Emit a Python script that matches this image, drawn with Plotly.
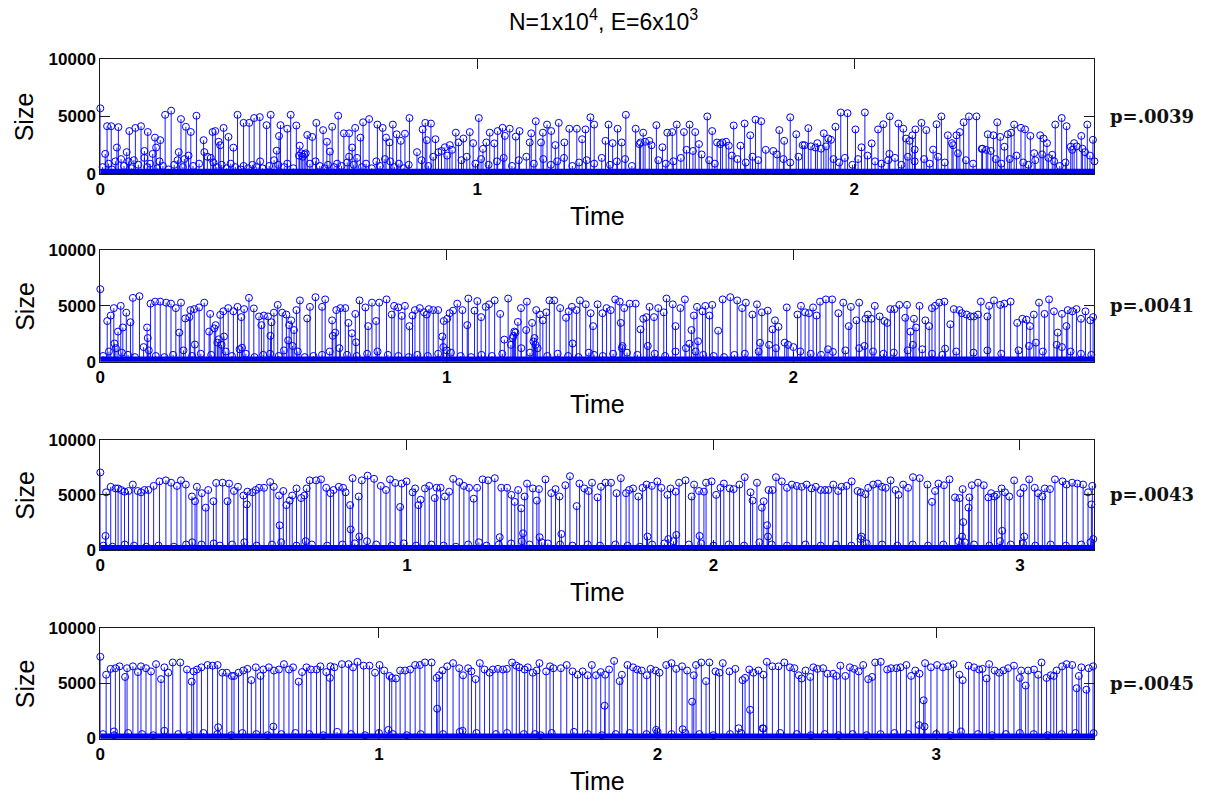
import plotly.graph_objects as go

TITLE = "N=1x10<sup>4</sup>, E=6x10<sup>3</sup>"
P_LABELS = ["p=.0039", "p=.0041", "p=.0043", "p=.0045"]
X_MAX = [2.637, 2.869, 3.243, 3.568]
X_TICKS = [[0, 1, 2], [0, 1, 2], [0, 1, 2, 3], [0, 1, 2, 3]]
Y_TICKS = [0, 5000, 10000]
Y_TICK_TEXT = ["0", "5000", "10000"]

# (time, size) of the large avalanches
P1_EVENTS = [
(0.000,5700),(0.013,1750),(0.018,4150),(0.029,4150),(0.044,2300),(0.048,4070),(0.070,1900),(0.077,3730),(0.093,4000),(0.108,4150),(0.117,2000),(0.126,3650),(0.139,1750),(0.145,3160),(0.148,2300),(0.159,2940),(0.172,5140),(0.188,5500),(0.208,1900),(0.214,4770),(0.227,4100),(0.234,1600),(0.240,3650),(0.255,5060),(0.274,2940),(0.276,1900),(0.298,3650),(0.305,3730),(0.314,2800),(0.318,2500),(0.327,4000),(0.340,3220),(0.353,2290),(0.364,5140),(0.380,4440),(0.395,4440),(0.408,4860),(0.423,4940),(0.424,1100),(0.441,4240),(0.452,5140),(0.468,2030),(0.474,3300),(0.478,4240),(0.496,3930),(0.505,5140),(0.520,4210),(0.529,2460),(0.549,3390),(0.562,3220),(0.573,4440),(0.591,3810),(0.601,2800),(0.609,1950),(0.615,4100),(0.631,5060),(0.646,3530),(0.660,3530),(0.668,2300),(0.676,4000),(0.690,3160),(0.697,4490),(0.713,4770),(0.735,4290),(0.749,4000),(0.758,3160),(0.767,2740),(0.776,4290),(0.786,3450),(0.797,2880),
(0.808,3500),(0.820,4860),(0.855,3870),(0.862,4440),(0.866,2940),(0.877,4380),(0.889,3020),(0.914,2320),(0.927,2510),(0.943,3590),(0.950,2740),(0.963,3080),(0.980,3640),(0.989,2680),(1.004,4860),(1.015,2180),(1.024,2740),(1.033,3590),(1.045,2660),(1.054,3730),(1.067,4010),(1.073,3310),(1.086,3930),(1.102,3250),(1.112,3730),(1.139,2740),(1.143,3530),(1.155,4580),(1.169,2740),(1.174,3590),(1.185,4290),(1.196,3730),(1.207,2510),(1.216,4440),(1.231,2740),(1.244,3930),(1.264,3930),(1.278,3020),(1.287,3870),(1.300,4920),(1.310,4290),(1.340,2880),(1.348,4290),(1.359,2680),(1.372,3930),(1.383,2740),(1.394,5140),(1.420,3930),(1.433,2740),(1.440,3590),(1.456,2880),(1.475,4240),(1.491,2320),(1.504,3590),(1.517,3640),(1.529,4290),(1.548,3640),(1.563,4290),(1.578,3640),(1.588,2600),(1.610,5000),(1.623,3730),(1.636,2740),(1.650,2740),(1.667,2460),(1.680,4210),(1.698,2460),(1.709,4380),(1.724,3360),(1.738,4720),(1.753,4580),(1.801,3810),
(1.814,2880),(1.830,4920),(1.846,3450),(1.863,2510),(1.878,3980),(1.902,2680),(1.919,3530),(1.931,3080),(1.938,2970),(1.950,4100),(1.964,5340),(1.982,5280),(2.003,3870),(2.019,2320),(2.028,5340),(2.046,2660),(2.063,3870),(2.077,4320),(2.093,1750),(2.094,5000),(2.117,4380),(2.130,3930),(2.137,3080),(2.147,2880),(2.154,3360),(2.160,2120),(2.162,3870),(2.178,4440),(2.191,3810),(2.209,2120),(2.218,4320),(2.231,5000),(2.248,3360),(2.259,2680),(2.271,3360),(2.280,3640),(2.290,4490),(2.304,5000),(2.324,5000),(2.338,2180),(2.354,3450),(2.369,3360),(2.379,4490),(2.387,3220),(2.398,2370),(2.407,3450),(2.416,3590),(2.424,4290),(2.442,4010),(2.453,3870),(2.467,3310),(2.477,1810),(2.493,3360),(2.502,3080),(2.511,2680),(2.525,1670),(2.533,4290),(2.550,4860),(2.563,4150),(2.574,2370),(2.583,2680),(2.602,3310),(2.618,4290),(2.633,2970),
]

P2_EVENTS = [
(0.000,6500),(0.020,3640),(0.030,4130),(0.039,4800),(0.041,1620),(0.051,2690),(0.059,5000),(0.065,3060),(0.075,4390),(0.087,3530),(0.094,5720),(0.113,5870),(0.135,3060),(0.137,2110),(0.145,5200),(0.158,5380),(0.173,5380),(0.190,5290),(0.204,5200),(0.218,4800),(0.228,2600),(0.233,5290),(0.245,3870),(0.257,3990),(0.260,4620),(0.271,4710),(0.273,1530),(0.285,4860),(0.300,5290),(0.314,2690),(0.317,4280),(0.329,2980),(0.333,3270),(0.346,4190),(0.355,4510),(0.357,2250),(0.369,4800),(0.384,4510),(0.396,4910),(0.407,3990),(0.409,1240),(0.415,4710),(0.429,5720),(0.443,4770),(0.458,4050),(0.465,3270),(0.472,4130),(0.484,4050),(0.491,2310),(0.494,3530),(0.501,4390),(0.512,5090),(0.525,4390),(0.537,4220),(0.545,3270),(0.551,3700),(0.559,2830),(0.566,4620),(0.576,5490),(0.597,3870),(0.605,4910),(0.621,5780),(0.640,4910),(0.649,5580),(0.669,3700),(0.671,2310),(0.678,2600),(0.681,4620),(0.693,4800),(0.707,4800),(0.716,3470),(0.726,2540),(0.736,4280),(0.738,1730),(0.748,5490),(0.765,4860),(0.773,3180),(0.784,5290),(0.796,3640),(0.805,5290),(0.826,5580),(0.841,4220),(0.848,5000),(0.860,4860),(0.870,4100),
(0.879,5000),(0.892,3180),(0.901,4130),(0.908,4620),(0.922,4800),(0.934,4420),(0.942,4220),(0.948,4710),(0.961,4620),(0.975,4620),(0.987,2250),(0.991,3640),(1.001,3840),(1.008,4340),(1.018,4570),(1.030,5200),(1.045,4620),(1.059,3270),(1.062,5660),(1.080,4570),(1.088,5430),(1.099,3990),(1.112,4910),(1.122,5140),(1.138,5490),(1.154,4280),(1.166,1970),(1.177,5660),(1.190,2110),(1.195,2690),(1.205,3560),(1.214,4800),(1.229,2830),(1.231,5380),(1.246,3470),(1.253,2110),(1.258,4620),(1.269,4220),(1.277,3700),(1.287,4420),(1.296,5490),(1.310,5490),(1.327,4800),(1.344,3930),(1.352,4510),(1.361,4910),(1.363,1620),(1.374,4620),(1.384,5490),(1.401,5140),(1.415,4340),(1.422,3180),(1.435,5140),(1.449,4340),(1.461,4800),(1.473,4620),(1.486,5580),(1.499,5380),(1.502,3470),(1.507,1390),(1.512,4800),(1.528,5200),(1.545,5200),(1.559,2890),(1.567,3840),(1.576,3990),(1.585,4910),(1.598,3990),(1.610,4800),(1.626,4420),(1.634,5660),(1.652,5140),(1.660,3180),(1.674,4800),(1.687,5580),(1.706,2830),(1.713,4130),(1.722,4910),(1.725,1820),(1.738,4510),(1.746,5000),(1.758,4130),(1.766,5090),(1.783,2770),(1.796,5580),(1.818,5780),(1.838,5490),(1.852,4800),(1.863,5290),(1.882,4220),(1.895,5140),(1.904,1680),(1.909,4420),(1.926,4570),(1.940,2890),(1.947,3700),(1.957,3120),
(1.981,4860),(2.012,4220),(2.022,5000),(2.034,4420),(2.045,4340),(2.057,4860),(2.067,4130),(2.077,5380),(2.094,5580),(2.112,5580),(2.114,870),(2.130,4340),(2.144,5290),(2.160,3180),(2.166,4910),(2.182,3700),(2.190,5290),(2.208,3840),(2.215,4220),(2.225,3840),(2.235,5000),(2.249,4050),(2.263,3640),(2.271,3470),(2.280,4710),(2.292,4710),(2.306,5090),(2.323,3930),(2.328,5090),(2.338,2690),(2.348,3840),(2.354,3060),(2.364,5000),(2.381,3700),(2.392,3180),(2.400,4800),(2.409,5000),(2.421,5290),(2.436,5380),(2.438,1160),(2.453,3350),(2.463,4710),(2.479,4620),(2.486,4340),(2.500,4220),(2.512,4050),(2.521,4050),(2.533,4220),(2.541,5380),(2.560,4050),(2.565,5000),(2.579,5490),(2.597,5090),(2.609,5200),(2.627,5380),(2.646,3470),(2.661,3840),(2.673,3760),(2.683,3180),(2.694,4220),(2.709,5290),(2.725,4280),(2.738,5580),(2.752,4510),(2.763,2600),(2.775,4280),(2.788,3180),(2.792,4620),(2.805,4510),(2.817,4710),(2.830,3840),(2.843,4510),(2.857,3700),(2.865,3990),
]

P3_EVENTS = [
(0.000,7030),(0.017,1280),(0.019,5230),(0.034,5730),(0.050,5580),(0.058,5580),(0.068,5440),(0.079,5290),(0.092,5350),(0.106,5930),(0.122,5350),(0.133,5230),(0.144,5440),(0.157,5440),(0.174,5810),(0.193,6220),(0.214,6310),(0.231,6100),(0.250,5810),(0.263,6310),(0.279,5930),(0.299,4850),(0.309,4420),(0.315,5730),(0.331,5150),(0.344,3840),(0.352,5440),(0.369,4420),(0.378,6080),(0.399,6100),(0.415,4420),(0.420,6020),(0.436,5350),(0.449,5730),(0.467,4940),(0.478,4130),(0.480,5290),(0.496,5230),(0.507,5440),(0.518,5640),(0.534,5640),(0.554,6160),(0.566,5730),(0.583,4940),(0.585,2240),(0.597,5350),(0.607,4070),(0.618,4480),(0.626,4940),(0.640,5580),(0.655,4710),(0.666,4940),(0.673,5580),(0.683,6310),(0.704,6310),(0.720,6400),(0.737,5640),(0.751,5150),(0.761,5440),(0.778,5730),(0.792,5640),(0.800,5230),(0.815,4070),(0.817,1860),(0.823,6510),(0.843,4850),(0.845,1220),(0.853,6310),(0.872,6740),(0.893,6450),(0.915,5810),(0.932,5440),(0.945,6400),(0.962,6080),(0.978,3900),(0.983,6020),
(0.999,6220),(1.019,5230),(1.027,5580),(1.038,4070),(1.045,4560),(1.059,5580),(1.073,5810),(1.091,4710),(1.097,5640),(1.110,5640),(1.124,4850),(1.138,5290),(1.151,6450),(1.171,6160),(1.186,5810),(1.203,5640),(1.218,4650),(1.229,5640),(1.247,6400),(1.265,6310),(1.287,6510),(1.303,1160),(1.308,5640),(1.327,5640),(1.341,5000),(1.352,4360),(1.363,5440),(1.373,3780),(1.379,1510),(1.384,4850),(1.392,6020),(1.411,5580),(1.424,4480),(1.431,5520),(1.433,1160),(1.452,6400),(1.471,5150),(1.485,5520),(1.498,4850),(1.504,1450),(1.517,5870),(1.532,6690),(1.554,3980),(1.563,6020),(1.579,5580),(1.593,5350),(1.604,6100),(1.622,4770),(1.633,5730),(1.648,6100),(1.666,6100),(1.684,5150),(1.698,6510),(1.715,5150),(1.725,5440),(1.738,5580),(1.755,4850),(1.769,5640),(1.782,5930),(1.785,1220),(1.799,5810),(1.817,6220),(1.830,5640),(1.850,5000),(1.853,990),(1.860,5580),(1.877,5290),(1.879,1370),(1.888,6100),(1.909,6310),(1.929,4850),(1.937,5930),(1.953,5350),(1.955,1280),(1.969,5290),(1.976,6100),(1.994,6220),(2.009,5000),(2.023,5640),(2.034,6020),(2.053,5580),(2.066,5520),(2.085,5930),(2.102,6600),(2.121,5230),(2.128,4480),(2.142,6100),(2.158,3840),(2.164,4420),(2.175,2240),(2.178,1220),(2.180,5440),(2.193,5440),(2.204,6600),
(2.223,6220),(2.240,5640),(2.256,5930),(2.272,5810),(2.288,5730),(2.304,5930),(2.320,5580),(2.334,5730),(2.350,5440),(2.364,5440),(2.375,5440),(2.391,5930),(2.407,5350),(2.418,5730),(2.434,5810),(2.451,6220),(2.470,5350),(2.481,5230),(2.483,1220),(2.496,5060),(2.505,5640),(2.521,5930),(2.537,6020),(2.550,5730),(2.562,5640),(2.578,6310),(2.594,5440),(2.604,5000),(2.619,5930),(2.635,5640),(2.651,6600),(2.673,6510),(2.698,5930),(2.713,4360),(2.723,5350),(2.734,6020),(2.752,5870),(2.770,6400),(2.788,4770),(2.803,4710),(2.811,1220),(2.813,5520),(2.815,2530),(2.832,3840),(2.835,4770),(2.843,5870),(2.863,6100),(2.882,5870),(2.897,4770),(2.906,5150),(2.917,4850),(2.924,5000),(2.940,5580),(2.942,1740),(2.951,5230),(2.965,4850),(2.981,6310),(3.001,5150),(3.012,5640),(3.014,1220),(3.030,6400),(3.048,5640),(3.059,5150),(3.073,4850),(3.081,5580),(3.098,5520),(3.114,6400),(3.139,6220),(3.152,5930),(3.170,6100),(3.187,6020),(3.206,5930),(3.222,5230),(3.233,4130),(3.236,5810),(3.239,990),
]

P4_EVENTS = [
(0.000,7410),(0.021,5780),(0.037,6310),(0.049,640),(0.054,6370),(0.069,6540),(0.089,5580),(0.096,6370),(0.117,6540),(0.135,6020),(0.146,6540),(0.164,6370),(0.182,6080),(0.200,6740),(0.218,5380),(0.230,6450),(0.244,5960),(0.260,6890),(0.287,6890),(0.311,6250),(0.328,5150),(0.335,6080),(0.347,6250),(0.363,6450),(0.385,6660),(0.403,6600),(0.421,6660),(0.423,1020),(0.438,5960),(0.454,5960),(0.472,5670),(0.480,5670),(0.496,5960),(0.513,6160),(0.528,6310),(0.542,5290),(0.558,6450),(0.575,5670),(0.585,6250),(0.605,6450),(0.621,1080),(0.623,6160),(0.641,6250),(0.659,6740),(0.677,6250),(0.692,6450),(0.712,5150),(0.724,6020),(0.740,6450),(0.756,6250),(0.776,6250),(0.790,6540),(0.811,6020),(0.824,5490),(0.826,6540),(0.840,6450),(0.867,6740),(0.891,6740),(0.907,6450),(0.923,6950),(0.945,6600),(0.966,6600),(0.986,5960),(1.002,6660),(1.019,6160),(1.034,780),(1.038,5670),(1.046,5490),(1.061,5440),(1.076,6160),
(1.094,6160),(1.112,6250),(1.130,6660),(1.147,6660),(1.165,6890),(1.189,6890),(1.207,5490),(1.216,5730),(1.228,6160),(1.245,6540),(1.266,6830),(1.288,6370),(1.302,5730),(1.320,6370),(1.332,6080),(1.347,5380),(1.362,6830),(1.379,6250),(1.397,5960),(1.409,6250),(1.427,6310),(1.445,6250),(1.459,6310),(1.478,6890),(1.493,6600),(1.504,6450),(1.523,6250),(1.534,6450),(1.552,5960),(1.566,6160),(1.576,6830),(1.600,6080),(1.614,6540),(1.626,6370),(1.653,6370),(1.674,6660),(1.695,6080),(1.713,5780),(1.731,6080),(1.749,5730),(1.764,6660),(1.779,5730),(1.796,6020),(1.810,2970),(1.812,5780),(1.826,6250),(1.844,7030),(1.864,5200),(1.872,5780),(1.892,6660),(1.912,6450),(1.927,6250),(1.943,6160),(1.961,5730),(1.975,6310),(1.993,6160),(1.995,780),(2.007,5960),(2.031,6660),(2.050,6830),(2.067,6310),(2.088,6540),(2.090,840),(2.106,6160),(2.124,3340),(2.130,5730),(2.138,6660),(2.157,6890),(2.174,5200),(2.186,6890),(2.208,6080),(2.222,5960),(2.234,6830),(2.258,6080),(2.279,6310),(2.291,930),(2.305,5290),(2.314,5490),(2.329,6250),(2.344,5960),(2.362,6160),(2.377,930),(2.380,5780),(2.392,6950),(2.412,6540),(2.434,6540),
(2.455,6890),(2.475,6450),(2.491,6370),(2.507,5730),(2.517,5440),(2.531,6160),(2.548,5580),(2.559,6450),(2.574,6310),(2.594,6370),(2.610,5870),(2.630,5870),(2.642,5670),(2.656,6600),(2.674,5670),(2.690,6450),(2.706,6310),(2.722,6080),(2.738,6660),(2.756,5380),(2.770,5580),(2.781,6890),(2.801,6950),(2.824,6250),(2.838,6370),(2.857,6370),(2.872,6450),(2.893,6660),(2.910,5670),(2.925,6160),(2.938,1220),(2.940,5870),(2.955,3460),(2.958,1080),(2.960,6830),(2.981,6450),(3.003,6660),(3.024,6450),(3.043,6540),(3.062,6740),(3.083,5780),(3.089,640),(3.095,5290),(3.116,6600),(3.136,6450),(3.154,6250),(3.166,6310),(3.181,5440),(3.190,6740),(3.210,6160),(3.226,5960),(3.241,6160),(3.258,6370),(3.279,6600),(3.300,5490),(3.305,6160),(3.321,4800),(3.330,6160),(3.351,6250),(3.366,5780),(3.378,6890),(3.396,5490),(3.411,5730),(3.422,5670),(3.432,6160),(3.452,6540),(3.468,6740),(3.488,6660),(3.504,4560),(3.512,5670),(3.521,6450),(3.539,4420),(3.547,6370),(3.563,6540),(3.565,490),
]

# (time, size) of the small avalanches crowding the bottom of each panel
P1_SMALL = [
(0.006,600),(0.022,900),(0.031,400),(0.040,1100),(0.055,1300),(0.063,700),(0.075,1100),(0.083,500),(0.089,1200),(0.101,800),(0.117,1400),(0.124,600),(0.132,900),(0.151,500),(0.157,1100),(0.166,700),(0.181,400),(0.196,800),(0.205,1200),(0.219,600),(0.223,1300),(0.246,700),(0.262,900),(0.284,1500),(0.293,1400),(0.300,1000),(0.309,600),(0.322,800),(0.335,500),(0.346,900),(0.358,600),(0.372,400),(0.380,700),(0.392,500),(0.404,800),(0.415,600),(0.430,500),(0.448,700),(0.461,1200),(0.472,800),(0.488,600),(0.496,900),(0.512,500),(0.527,1600),(0.533,1800),(0.537,1500),(0.541,1700),(0.545,1800),(0.556,900),(0.571,1100),(0.582,700),(0.595,500),(0.604,800),(0.620,600),(0.628,900),(0.640,700),(0.655,1000),(0.660,1500),(0.672,800),(0.681,1400),(0.694,600),(0.705,900),(0.720,500),(0.732,1100),(0.742,700),(0.755,1300),(0.769,1100),(0.780,600),(0.792,900),(0.805,500),(0.818,800),(0.840,1900),(0.852,1200),(0.870,700),(0.883,1500),(0.897,1900),(0.905,2000),(0.920,1600),(0.933,2100),(0.958,1200),(0.972,1500),(0.995,900),(1.010,1300),(1.030,800),(1.052,1100),(1.070,1400),(1.092,700),(1.110,1200),(1.130,1500),(1.150,900),(1.175,1300),(1.195,800),(1.212,1100),(1.230,1400),(1.252,700),(1.270,1000),(1.290,1200),(1.310,900),(1.330,1400),(1.352,800),(1.370,1100),(1.392,1300),(1.410,700),(1.430,2600),(1.445,2800),(1.462,2500),(1.480,1200),(1.500,900),(1.520,1100),(1.540,1400),(1.555,2100),(1.572,2000),(1.595,1700),(1.615,1200),(1.630,900),(1.645,2600),(1.660,2800),(1.675,1600),(1.690,1300),(1.712,1000),(1.730,1500),(1.745,1200),(1.765,2100),(1.785,2000),(1.795,1700),(1.812,1300),(1.830,1000),(1.852,1500),(1.868,2500),(1.885,2400),(1.897,2300),(1.912,2200),(1.925,2400),(1.945,1300),(1.960,1000),(1.975,1400),(1.995,800),(2.010,1300),(2.035,1600),(2.055,1100),(2.072,900),(2.090,1200),(2.108,1400),(2.125,800),(2.142,1500),(2.160,1100),(2.185,1300),(2.200,900),(2.222,1500),(2.240,1000),(2.262,2500),(2.275,1800),(2.296,1200),(2.315,900),(2.340,2200),(2.350,2100),(2.362,2000),(2.375,1300),(2.390,900),(2.412,1300),(2.430,1600),(2.448,1000),(2.462,800),(2.480,1200),(2.498,1700),(2.515,1400),(2.530,1100),(2.545,700),(2.560,1000),(2.578,2100),(2.590,2400),(2.605,2200),(2.612,1900),(2.625,1600),(2.637,1100),
]
P2_SMALL = [
(0.008,500),(0.025,900),(0.045,1200),(0.062,800),(0.080,600),(0.100,400),(0.125,1300),(0.140,1000),(0.160,500),(0.185,400),(0.210,600),(0.240,1000),(0.265,500),(0.290,700),(0.320,600),(0.338,1700),(0.342,2000),(0.350,1500),(0.362,900),(0.380,500),(0.402,1100),(0.420,700),(0.445,400),(0.470,600),(0.490,700),(0.515,500),(0.530,1000),(0.542,1900),(0.555,1400),(0.570,900),(0.590,400),(0.615,500),(0.640,600),(0.662,900),(0.690,1200),(0.712,600),(0.740,500),(0.770,700),(0.800,900),(0.830,600),(0.860,500),(0.890,400),(0.915,600),(0.945,500),(0.975,700),(0.990,1300),(1.000,1000),(1.012,800),(1.040,500),(1.070,400),(1.100,600),(1.130,500),(1.160,700),(1.185,1500),(1.192,2300),(1.198,2600),(1.215,1200),(1.240,800),(1.250,1800),(1.256,1500),(1.262,1200),(1.290,500),(1.320,700),(1.350,500),(1.380,400),(1.410,800),(1.425,600),(1.450,500),(1.480,700),(1.505,1200),(1.520,800),(1.550,600),(1.580,1400),(1.600,700),(1.630,500),(1.660,900),(1.690,1200),(1.700,1600),(1.718,900),(1.740,600),(1.770,500),(1.800,400),(1.830,600),(1.860,700),(1.900,900),(1.930,1500),(1.950,1200),(1.975,1700),(1.985,1500),(2.000,1300),(2.020,900),(2.050,700),(2.080,600),(2.100,1100),(2.150,1000),(2.190,1200),(2.205,1400),(2.230,900),(2.260,700),(2.290,800),(2.330,1000),(2.345,1500),(2.372,1100),(2.400,700),(2.430,600),(2.470,900),(2.520,800),(2.560,1000),(2.600,700),(2.650,1000),(2.680,1400),(2.700,1700),(2.720,900),(2.760,1500),(2.775,1300),(2.800,900),(2.830,700),(2.860,600),
]
P3_SMALL = [
(0.010,400),(0.040,300),(0.080,500),(0.110,400),(0.150,300),(0.190,400),(0.240,300),(0.280,500),(0.300,700),(0.330,500),(0.370,600),(0.390,400),(0.430,500),(0.470,700),(0.510,400),(0.560,500),(0.590,700),(0.640,400),(0.670,800),(0.690,500),(0.740,400),(0.790,500),(0.830,600),(0.870,800),(0.900,500),(0.950,400),(0.990,600),(1.030,400),(1.080,500),(1.120,400),(1.160,300),(1.200,500),(1.235,700),(1.260,400),(1.300,500),(1.340,600),(1.375,800),(1.400,500),(1.440,700),(1.460,600),(1.500,500),(1.540,400),(1.590,500),(1.630,400),(1.680,500),(1.720,400),(1.760,300),(1.800,500),(1.840,600),(1.870,800),(1.920,500),(1.960,600),(2.000,400),(2.050,500),(2.100,400),(2.150,700),(2.190,500),(2.240,400),(2.300,500),(2.350,400),(2.400,500),(2.450,400),(2.480,1000),(2.500,600),(2.550,500),(2.600,400),(2.650,500),(2.700,400),(2.750,500),(2.800,800),(2.820,700),(2.850,500),(2.900,400),(2.935,800),(2.970,500),(3.010,600),(3.050,400),(3.100,500),(3.150,400),(3.200,500),(3.230,700),
]
P4_SMALL = [
(0.010,400),(0.050,300),(0.100,500),(0.150,400),(0.190,300),(0.230,700),(0.280,400),(0.320,300),(0.370,500),(0.420,400),(0.470,300),(0.510,500),(0.560,400),(0.600,300),(0.650,400),(0.700,500),(0.750,400),(0.800,300),(0.850,600),(0.900,400),(0.950,300),(1.000,500),(1.050,400),(1.100,300),(1.150,400),(1.209,2700),(1.230,400),(1.290,600),(1.300,700),(1.350,500),(1.420,400),(1.460,500),(1.520,400),(1.560,400),(1.580,300),(1.620,500),(1.700,600),(1.750,400),(1.800,300),(1.850,400),(1.900,500),(1.960,400),(2.000,600),(2.050,400),(2.100,500),(2.150,400),(2.200,300),(2.260,400),(2.300,500),(2.332,2600),(2.380,900),(2.440,500),(2.500,400),(2.550,300),(2.600,400),(2.650,300),(2.700,400),(2.750,300),(2.800,400),(2.850,500),(2.900,400),(3.000,400),(3.050,300),(3.150,400),(3.200,300),(3.250,400),(3.300,500),(3.350,400),(3.400,300),(3.450,400),(3.500,500),
]

PANELS = [(P1_EVENTS, P1_SMALL), (P2_EVENTS, P2_SMALL), (P3_EVENTS, P3_SMALL), (P4_EVENTS, P4_SMALL)]

W, H = 1207, 812
X0_PX, X1_PX = 95.7, 1094.0
PANEL_PX = [(51, 169), (247, 361), (441, 554), (634, 747)]   # top, bottom of each plot box
BLUE = "#0000ff"
AXC = "#1a1a1a"

fig = go.Figure()
shapes, annotations = [], []
xdom = [X0_PX / W, X1_PX / W]

for i, ((big, small), (top, bot)) in enumerate(zip(PANELS, PANEL_PX)):
    n = i + 1
    xa, ya = f"x{n}", f"y{n}"
    events = sorted(small + big)
    ts = [e[0] for e in events]
    ss = [e[1] for e in events]
    sx, sy = [], []
    for t, s in zip(ts, ss):
        sx += [t, t, None]
        sy += [0, s, None]
    fig.add_trace(go.Scatter(x=sx, y=sy, mode="lines", xaxis=xa, yaxis=ya,
                             line=dict(color=BLUE, width=0.9), hoverinfo="skip",
                             showlegend=False))
    fig.add_trace(go.Scatter(x=ts, y=ss, mode="markers", xaxis=xa, yaxis=ya,
                             marker=dict(symbol="circle-open", size=7,
                                         line=dict(color=BLUE, width=1), color=BLUE),
                             cliponaxis=False, showlegend=False))
    ydom = [1 - bot / H, 1 - top / H]
    fig.layout[f"xaxis{n}"] = dict(
        domain=xdom, anchor=ya, range=[0, X_MAX[i]], tickvals=X_TICKS[i],
        ticktext=[str(v) for v in X_TICKS[i]],
        ticks="inside", ticklen=10, tickcolor=AXC, mirror="ticks", showline=True,
        linecolor=AXC, linewidth=1, showgrid=False, zeroline=False,
        tickfont=dict(family="Liberation Sans", size=17, color="black", weight="bold"),
        ticklabelstandoff=0)
    fig.layout[f"yaxis{n}"] = dict(
        domain=ydom, anchor=xa, range=[0, 10000], tickvals=Y_TICKS, ticktext=Y_TICK_TEXT,
        ticks="inside", ticklen=10, tickcolor=AXC, mirror="ticks", showline=True,
        linecolor=AXC, linewidth=1, showgrid=False, zeroline=False,
        tickfont=dict(family="Liberation Sans", size=17, color="black", weight="bold"))
    # thick base band made by the crowd of tiny events at the baseline
    shapes.append(dict(type="rect", xref=xa, yref=ya, x0=0, x1=X_MAX[i],
                       y0=-250, y1=450, fillcolor=BLUE, line=dict(width=0), layer="above"))
    shapes.append(dict(type="line", xref=xa, yref=ya, x0=0, x1=X_MAX[i],
                       y0=0, y1=0, line=dict(color="#000080", width=1.5), layer="above"))
    annotations.append(dict(text=P_LABELS[i], xref="paper", yref=ya, x=1108 / W, y=5000,
                            xanchor="left", yanchor="middle", showarrow=False,
                            font=dict(family="DejaVu Serif", size=18, color="#111", weight="bold")))
    annotations.append(dict(text="Size", xref="paper", yref="paper", x=20 / W,
                            y=1 - (top + bot) / 2 / H, textangle=-90, showarrow=False,
                            xanchor="center", yanchor="middle",
                            font=dict(family="Liberation Sans", size=25, color="black")))
    annotations.append(dict(text="Time", xref="paper", yref="paper", x=(X0_PX + X1_PX) / 2 / W,
                            y=1 - (bot + 43) / H, showarrow=False,
                            xanchor="center", yanchor="middle",
                            font=dict(family="Liberation Sans", size=25, color="black")))

annotations.append(dict(text=TITLE, xref="paper", yref="paper", x=601 / W, y=1 + 6 / H,
                        showarrow=False, xanchor="center", yanchor="top",
                        font=dict(family="Liberation Sans", size=23, color="black")))

fig.update_layout(width=W, height=H, margin=dict(l=0, r=0, t=0, b=0),
                  paper_bgcolor="white", plot_bgcolor="white",
                  shapes=shapes, annotations=annotations, showlegend=False)

fig.write_html("out.html")
